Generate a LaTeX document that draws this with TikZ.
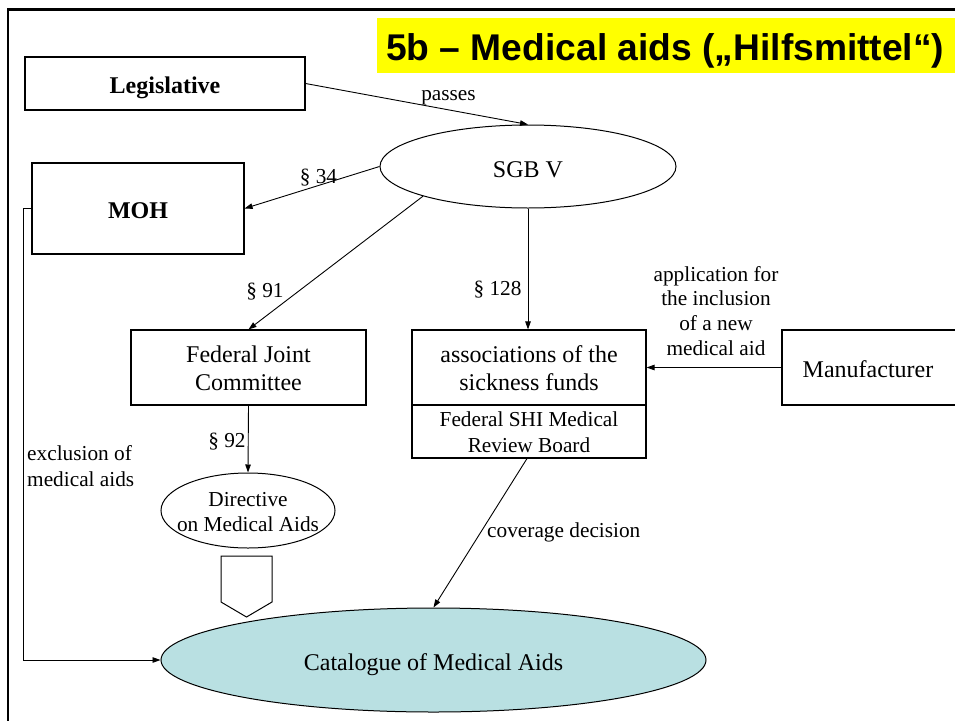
\documentclass[tikz,border=0pt]{standalone}
\usepackage{fontspec}
\setmainfont{Liberation Serif}
\newfontfamily\titlefont{Liberation Sans}
\usetikzlibrary{shapes.geometric,arrows.meta}
\definecolor{catfill}{RGB}{185,224,226}
\definecolor{titleyellow}{RGB}{255,255,0}
\begin{document}
\begin{tikzpicture}[x=1pt,y=-1pt,
  box/.style={draw,line width=1.1pt,inner sep=0pt,rectangle},
  oval/.style={draw,line width=1pt,ellipse,inner sep=0pt},
  conn/.style={line width=0.9pt,-{Triangle[length=8pt,width=5.5pt]}},
  txt/.style={inner sep=0pt,align=center},
  boldtxt/.style={inner sep=0pt,font=\fontsize{24}{28}\selectfont\bfseries},
  maintxt/.style={inner sep=0pt,align=center,font=\fontsize{24}{28}\selectfont},
  lbl/.style={inner sep=0pt,align=center,font=\fontsize{21.3}{24.7}\selectfont}]
\useasboundingbox (0,0) rectangle (955,720);
% frame
\draw[line width=2.6pt] (8,721) -- (8,9.5) -- (957,9.5);
% title
\node[fill=titleyellow,inner sep=0pt,minimum width=580pt,minimum height=55pt] (titlebox) at (667,45.5) {};
\node[anchor=base west,inner sep=0pt,font=\titlefont\bfseries\fontsize{37.2}{40}\selectfont] (title) at (386,60) {5b – Medical aids („Hilfsmittel“)};
% shapes
\node[box,minimum width=280pt,minimum height=53pt] (leg) at (165,83.5) {};
\node[box,minimum width=212pt,minimum height=91pt] (moh) at (138,208.5) {};
\node[oval,minimum width=296pt,minimum height=83pt] (sgb) at (528,166.5) {};
\node[box,minimum width=235pt,minimum height=75pt] (fjc) at (248.5,367.5) {};
\node[box,minimum width=234pt,minimum height=75pt] (assoc) at (529,367.5) {};
\node[box,minimum width=234pt,minimum height=53pt] (review) at (529,431.5) {};
\node[box,minimum width=175pt,minimum height=75pt] (manu) at (869.5,367.5) {};
\node[oval,minimum width=174pt,minimum height=75pt] (dir) at (248,510.5) {};
\node[oval,fill=catfill,minimum width=545pt,minimum height=104pt] (cat) at (433.5,660) {};
\draw[line width=1pt] (221,556) -- (272,556) -- (272,602) -- (246.5,617) -- (221,602) -- cycle;
% texts in shapes
\node[boldtxt,anchor=base] (legt) at (165,93) {Legislative};
\node[boldtxt,anchor=base] (moht) at (138,218) {MOH};
\node[maintxt,anchor=base] (sgbt) at (528,177) {SGB V};
\node[maintxt] (fjct) at (248.5,367.8) {Federal Joint\\Committee};
\node[maintxt] (assoct) at (529,367.8) {associations of the\\sickness funds};
\node[txt,font=\fontsize{21.3}{26}\selectfont] (reviewt) at (529,432.7) {Federal SHI Medical\\Review Board};
\node[maintxt,anchor=base] (manut) at (868,377) {Manufacturer};
\node[txt,font=\fontsize{21.3}{25}\selectfont] (dirt) at (248,512.2) {Directive\\on Medical Aids};
\node[maintxt,anchor=base] (catt) at (433.5,670) {Catalogue of Medical Aids};
% connectors
\draw[conn] (leg.east) -- (sgb.north);
\draw[conn] (sgb.west) -- (moh.east);
\draw[conn] (sgb.south west) -- (fjc.north);
\draw[conn] (sgb.south) -- (sgb.south |- assoc.north);
\draw[conn] (manu.west) -- (manu.west -| assoc.east);
\draw[conn] (fjc.south) -- (dir.north);
\draw[conn] ([xshift=-2pt]review.south) -- (cat.north);
\draw[conn] (moh.west) -- ++(-8,0) |- (cat.west);
% labels
\node[lbl,anchor=base] (passes) at (448.5,100) {passes};
\node[lbl,anchor=base] (p34) at (318.5,183) {§ 34};
\node[lbl,anchor=base] (p91) at (265,297) {§ 91};
\node[lbl,anchor=base] (p128) at (497.5,295) {§ 128};
\node[lbl,anchor=base] (p92) at (227,447) {§ 92};
\node[lbl] (appl) at (716,310.7) {application for\\the inclusion\\of a new\\medical aid};
\node[lbl,anchor=base west] (cov) at (487,537) {coverage decision};
\node[lbl,anchor=west,align=left,font=\fontsize{21.3}{26}\selectfont] (excl) at (27,465.7) {exclusion of\\medical aids};
\end{tikzpicture}
\end{document}
